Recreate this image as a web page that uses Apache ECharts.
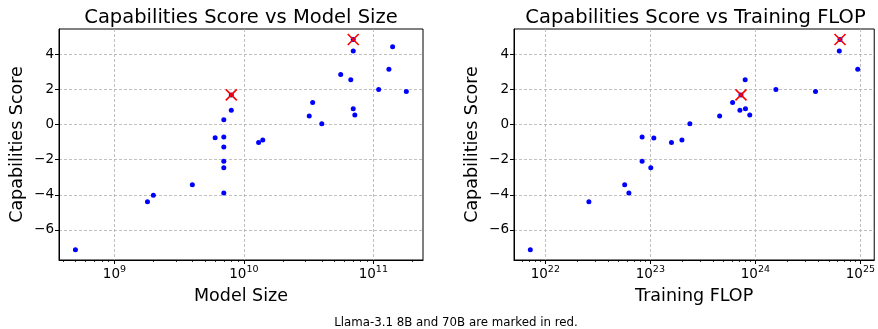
<!DOCTYPE html>
<html>
<head>
<meta charset="utf-8">
<title>Capabilities Score</title>
<script src="https://cdn.jsdelivr.net/npm/echarts@6/dist/echarts.min.js"></script>
<style>
  html, body { margin: 0; padding: 0; background: #fff; }
  #chart { width: 878px; height: 329px; }
</style>
</head>
<body>
<div id="chart"></div>
<script>
// Model size (parameters) and capabilities score, one entry per model
const modelSizes = [5e8, 1.8e9, 2.0e9, 4.0e9, 7.0e9, 7.0e9, 7.0e9, 7.0e9, 6.0e9, 7.0e9, 7.0e9, 8.0e9, 8.0e9,
  1.3e10, 1.4e10, 3.2e10, 3.4e10, 4.0e10, 5.6e10, 6.7e10, 7.0e10, 7.0e10, 7.0e10, 7.2e10, 1.1e11, 1.32e11, 1.41e11, 1.8e11];
const sizeScores = [-7.13, -4.40, -4.02, -3.43, -3.90, -2.46, -2.09, -1.27, -0.74, -0.70, 0.28, 0.83, 1.70,
  -1.02, -0.88, 0.49, 1.27, 0.06, 2.86, 2.57, 4.20, 4.86, 0.91, 0.55, 2.01, 3.16, 4.45, 1.89];

// Training compute (FLOP) and capabilities score, for models with known compute
const trainingFlop = [7.2e21, 2.6e22, 5.7e22, 6.25e22, 8.35e22, 8.35e22, 1.01e23, 1.08e23, 1.59e23, 2.0e23, 2.38e23,
  4.57e23, 6.07e23, 7.13e23, 7.3e23, 8.0e23, 8.05e23, 8.85e23, 1.57e24, 3.74e24, 6.3e24, 6.4e24, 9.44e24];
const flopScores = [-7.13, -4.40, -3.43, -3.90, -0.70, -2.09, -2.46, -0.76, -1.02, -0.88, 0.06,
  0.49, 1.27, 0.83, 1.70, 2.57, 0.91, 0.55, 2.01, 1.89, 4.20, 4.86, 3.16];

// Llama-3.1 8B and 70B highlights
const llamaSizes = [8.0e9, 7.0e10];
const llamaFlop = [7.3e23, 6.4e24];
const llamaScores = [1.70, 4.86];

const yTicks = [-6, -4, -2, 0, 2, 4];
const sizeTicks = [1e9, 1e10, 1e11];
const flopTicks = [1e22, 1e23, 1e24, 1e25];

const FONT = 'DejaVu Sans';

function minorTicks(lo, hi) {
  const out = [];
  for (let e = Math.floor(Math.log10(lo)); e <= Math.ceil(Math.log10(hi)); e++) {
    for (let m = 2; m <= 9; m++) {
      const v = m * Math.pow(10, e);
      if (v > lo && v < hi) out.push(v);
    }
  }
  return out;
}

const pairs = (xs, ys) => xs.map((x, i) => [x, ys[i]]);

const sizeMin = Math.pow(10, 8.572), sizeMax = Math.pow(10, 11.384);
const flopMin = Math.pow(10, 21.702), flopMax = Math.pow(10, 25.132);
const yMin = -7.72, yMax = 5.46;

const grids = [
  { left: 59, top: 29, width: 364, height: 231 },
  { left: 514, top: 29, width: 363, height: 231 }
];

const gridLine = { show: true, lineStyle: { color: '#b0b0b0', type: [3, 2], width: 0.8 } };

function powLabel(v) {
  const e = Math.round(Math.log10(v));
  return '{a|10}{s|' + e + '}';
}

function majorX(gridIndex, lo, hi, ticks, name) {
  return {
    type: 'log', logBase: 10, gridIndex, min: lo, max: hi, position: 'bottom',
    name, nameLocation: 'middle', nameGap: 27,
    nameTextStyle: { fontFamily: FONT, fontSize: 17.5, color: '#000' },
    axisLine: { show: true, onZero: false, lineStyle: { color: '#000', width: 1 } },
    axisTick: { show: true, length: 4, lineStyle: { color: '#000', width: 1 }, customValues: ticks },
    axisLabel: {
      customValues: ticks, formatter: powLabel, margin: 5,
      rich: {
        a: { fontFamily: FONT, fontSize: 13.5, color: '#000', verticalAlign: 'bottom', lineHeight: 16 },
        s: { fontFamily: FONT, fontSize: 9.5, color: '#000', verticalAlign: 'top', lineHeight: 16, padding: [0, 0, 6, 0] }
      }
    },
    splitLine: gridLine
  };
}

function minorX(gridIndex, lo, hi) {
  return {
    type: 'log', logBase: 10, gridIndex, min: lo, max: hi, position: 'bottom',
    axisLine: { show: false, onZero: false },
    axisTick: { show: true, length: 2, lineStyle: { color: '#000', width: 0.8 }, customValues: minorTicks(lo, hi) },
    axisLabel: { show: false },
    splitLine: { show: false }
  };
}

function yAxis(gridIndex) {
  return {
    type: 'value', gridIndex, min: yMin, max: yMax, interval: 2, position: 'left',
    name: 'Capabilities Score', nameLocation: 'middle', nameGap: 33,
    nameTextStyle: { fontFamily: FONT, fontSize: 17.5, color: '#000' },
    axisLine: { show: true, onZero: false, lineStyle: { color: '#000', width: 1 } },
    axisTick: { show: true, length: 4, lineStyle: { color: '#000', width: 1 }, customValues: yTicks },
    axisLabel: {
      customValues: yTicks, margin: 5, fontFamily: FONT, fontSize: 13.5, color: '#000',
      formatter: v => (v < 0 ? '\u2212' + Math.abs(v) : String(v))
    },
    splitLine: gridLine
  };
}

const crossPath = 'path://M0,0L10,10M10,0L0,10';

function dots(xAxisIndex, yAxisIndex, data) {
  return {
    type: 'scatter', xAxisIndex, yAxisIndex, data, symbol: 'circle', symbolSize: 5,
    itemStyle: { color: '#0000ff', opacity: 1 }, silent: true, z: 3
  };
}
function crosses(xAxisIndex, yAxisIndex, data) {
  return {
    type: 'scatter', xAxisIndex, yAxisIndex, data, symbol: crossPath, symbolSize: 11,
    itemStyle: { color: 'none', borderColor: '#ff0000', borderWidth: 1.6, opacity: 1 }, silent: true, z: 4
  };
}

const chart = echarts.init(document.getElementById('chart'), null, { renderer: 'canvas' });
chart.setOption({
  animation: false,
  backgroundColor: '#fff',
  title: [
    { text: 'Capabilities Score vs Model Size', left: 236, top: 3, textAlign: 'center',
      textStyle: { fontFamily: FONT, fontSize: 19.5, fontWeight: 'normal', color: '#000' } },
    { text: 'Capabilities Score vs Training FLOP', left: 690.5, top: 3, textAlign: 'center',
      textStyle: { fontFamily: FONT, fontSize: 19.5, fontWeight: 'normal', color: '#000' } },
    { text: 'Llama-3.1 8B and 70B are marked in red.', left: 451, top: 312, textAlign: 'center',
      textStyle: { fontFamily: FONT, fontSize: 11.8, fontWeight: 'normal', color: '#000' } }
  ],
  grid: grids.map(g => Object.assign({ show: true, borderColor: '#000', borderWidth: 1, backgroundColor: 'transparent' }, g)),
  xAxis: [
    majorX(0, sizeMin, sizeMax, sizeTicks, 'Model Size'),
    majorX(1, flopMin, flopMax, flopTicks, 'Training FLOP'),
    minorX(0, sizeMin, sizeMax),
    minorX(1, flopMin, flopMax)
  ],
  yAxis: [yAxis(0), yAxis(1)],
  series: [
    dots(0, 0, pairs(modelSizes, sizeScores)),
    crosses(0, 0, pairs(llamaSizes, llamaScores)),
    dots(1, 1, pairs(trainingFlop, flopScores)),
    crosses(1, 1, pairs(llamaFlop, llamaScores))
  ]
});
</script>
</body>
</html>
